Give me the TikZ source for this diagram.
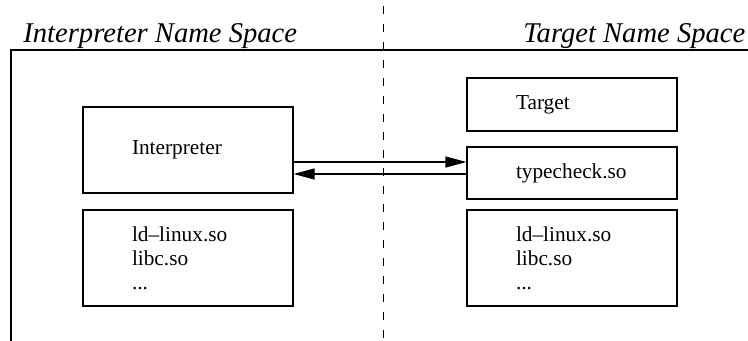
\documentclass[tikz,border=0pt]{standalone}
\usepackage{fontspec}
\setmainfont{Liberation Serif}
\usetikzlibrary{arrows.meta}
\begin{document}
\begin{tikzpicture}[x=0.5pt,y=-0.5pt,
  box/.style={draw,line width=0.6pt,align=left,text width=56pt,inner xsep=24.5pt,inner ysep=0pt,
    font=\fontsize{10.65}{12}\selectfont},
  space/.style={anchor=base west,inner sep=0pt,font=\fontsize{14.3}{16}\selectfont\itshape},
  link/.style={line width=0.6pt,-{Triangle[length=10.5pt,width=5.5pt]}}]
\useasboundingbox (0,0) rectangle (748,341);
%
\node[space](iname) at (23,43) {Interpreter Name Space};
\node[space](tname) at (523,43) {Target Name Space};
\draw[line width=0.6pt] (748,50) -- (11,50) -- (11,341);
\draw[line width=0.5pt,dash pattern=on 4pt off 5pt] (383,6) -- (383,341);
%
\node[box,minimum height=43pt](interp) at (188,150) {Interpreter};
\node[box,minimum height=48pt](libl) at (188,258) {ld\textendash linux.so\\libc.so\\...};
%
\node[box,minimum height=26.5pt](target) at (572,104.5) {Target};
\node[box,minimum height=26pt](tcheck) at (572,173) {typecheck.so};
\node[box,minimum height=48pt](libr) at (572,258) {ld\textendash linux.so\\libc.so\\...};
%
\coordinate(call) at (383,162);
\coordinate(back) at (383,174);
\draw[link](interp.east |- call) -- (tcheck.west |- call);
\draw[link](tcheck.west |- back) -- (interp.east |- back);
\end{tikzpicture}
\end{document}
